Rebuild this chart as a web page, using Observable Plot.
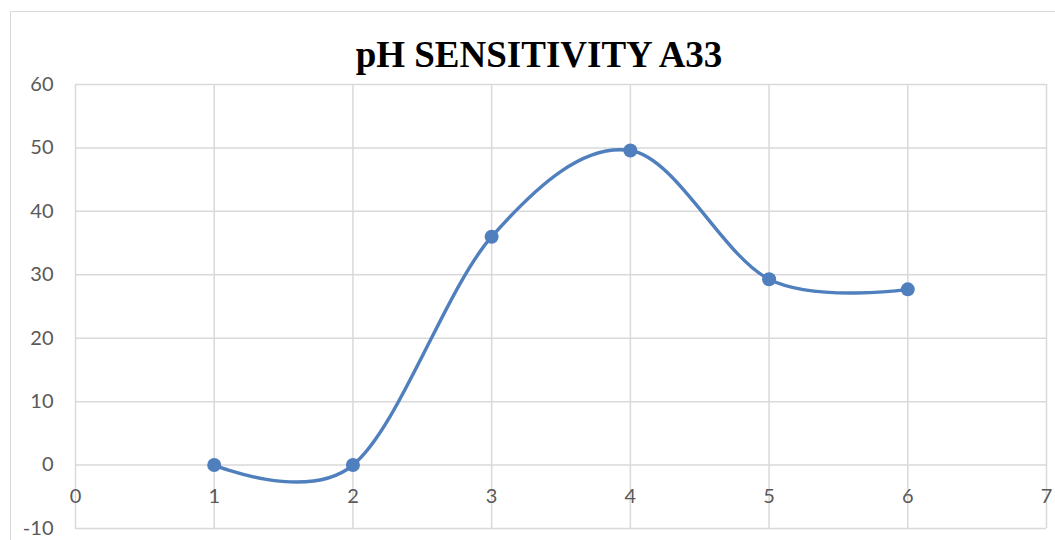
<!DOCTYPE html>
<html>
<head>
<meta charset="utf-8">
<script src="https://cdn.jsdelivr.net/npm/d3@7"></script>
<script src="https://cdn.jsdelivr.net/npm/@observablehq/plot@0.6"></script>
<style>
  html, body { margin: 0; padding: 0; background: #fff; overflow: hidden; }
  #wrap { position: relative; width: 1055px; height: 540px; }
  #border { position: absolute; left: 10px; top: 11px; width: 1100px; height: 600px; border: 1.5px solid #d9d9d9; box-sizing: border-box; }
  #title { position: absolute; left: 0; width: 1078px; top: 33px; text-align: center; font-family: "Liberation Serif", "Times New Roman", serif; font-weight: bold; font-size: 37px; color: #000; line-height: 44px; }
  #chart { position: absolute; left: 0; top: 0; }
</style>
</head>
<body>
<div id="wrap">
  <div id="border"></div>
  <div id="chart"></div>
  <div id="title">pH SENSITIVITY A33</div>
</div>
<script>
const xValues = [1, 2, 3, 4, 5, 6];
const yValues = [0, 0, 36, 49.6, 29.3, 27.7];
const xTicks = [0, 1, 2, 3, 4, 5, 6, 7];
const yTicks = [-10, 0, 10, 20, 30, 40, 50, 60];

const data = xValues.map((x, i) => ({x, y: yValues[i]}));
const labelFont = "Lato, 'Open Sans', sans-serif";

const chart = Plot.plot({
  width: 1055,
  height: 540,
  marginLeft: 75,
  marginRight: 9,
  marginTop: 84,
  marginBottom: 12,
  style: {background: "transparent", fontFamily: labelFont},
  x: {domain: [0, 7]},
  y: {domain: [-10, 60]},
  marks: [
    Plot.gridX(xTicks, {stroke: "#d9d9d9", strokeOpacity: 1, strokeWidth: 1.5}),
    Plot.gridY(yTicks, {stroke: "#d9d9d9", strokeOpacity: 1, strokeWidth: 1.5}),
    Plot.axisY(yTicks, {tickSize: 0, tickPadding: 22, fontSize: 20, fill: "#595959", label: null, tickFormat: d => String(d)}),
    Plot.axisX({ticks: [], label: null, tickSize: 0}),
    Plot.text(xTicks, {x: d => d, y: () => 0, text: d => String(d), dy: 32, fontSize: 20, fill: "#595959", textAnchor: "middle", lineAnchor: "middle"}),
    Plot.line(data, {x: "x", y: "y", curve: "cardinal", tension: 0, stroke: "#4f7fbd", strokeWidth: 3.4}),
    Plot.dot(data, {x: "x", y: "y", r: 7, fill: "#4f7fbd", stroke: "none"})
  ]
});
document.getElementById("chart").appendChild(chart);
</script>
</body>
</html>
